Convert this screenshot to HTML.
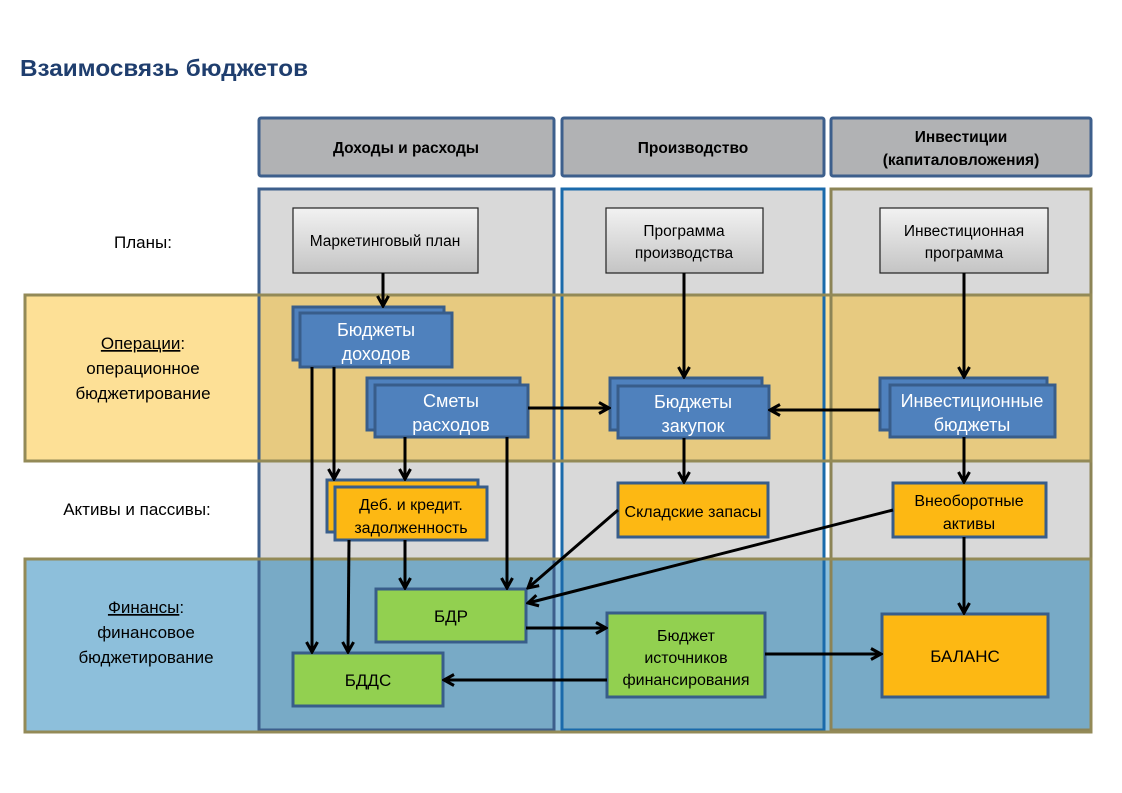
<!DOCTYPE html>
<html><head><meta charset="utf-8"><style>
html,body{margin:0;padding:0;background:#fff}
svg{display:block}
text{font-family:"Liberation Sans Narrow","Liberation Sans",sans-serif;fill:#000}
</style></head><body>
<svg width="1122" height="793" viewBox="0 0 1122 793" xmlns="http://www.w3.org/2000/svg">
<defs>
<marker id="a" viewBox="0 0 14 14" refX="12" refY="7" markerWidth="14" markerHeight="14" markerUnits="userSpaceOnUse" orient="auto">
<polyline points="2,1.5 12,7 2,12.5" fill="none" stroke="#000" stroke-width="3"/>
</marker>
<linearGradient id="g" x1="0" y1="0" x2="0" y2="1"><stop offset="0" stop-color="#f2f2f2"/><stop offset="1" stop-color="#c4c4c4"/></linearGradient>
</defs>
<text x="20" y="76" font-size="23" font-weight="bold" style="fill:#1f3e6e" font-family="Liberation Sans" textLength="288" lengthAdjust="spacingAndGlyphs">Взаимосвязь бюджетов</text>

<g stroke="#3d5f8c" stroke-width="3" fill="#b1b2b4">
<rect x="259" y="118" width="295" height="58" rx="2"/>
<rect x="562" y="118" width="262" height="58" rx="2"/>
<rect x="831" y="118" width="260" height="58" rx="2"/>
</g>
<g font-size="15.5" font-weight="bold" text-anchor="middle">
<text x="406" y="153">Доходы и расходы</text>
<text x="693" y="153">Производство</text>
<text x="961" y="142">Инвестиции</text>
<text x="961" y="165">(капиталовложения)</text>
</g>

<g fill="#d9d9d9">
<rect x="259" y="189" width="295" height="541"/>
<rect x="562" y="189" width="262" height="541"/>
<rect x="831" y="189" width="260" height="541"/>
</g>
<rect x="25" y="295" width="1066" height="166" fill="#fab505" fill-opacity="0.42"/>
<rect x="25" y="559" width="1066" height="173" fill="#0271af" fill-opacity="0.45"/>
<g fill="none" stroke-width="3">
<rect x="259" y="189" width="295" height="541" stroke="#3d5f8c"/>
<rect x="562" y="189" width="262" height="541" stroke="#1a6aab"/>
<rect x="831" y="189" width="260" height="541" stroke="#8c8456"/>
</g>
<g fill="none" stroke="#938a57" stroke-width="3">
<rect x="25" y="295" width="1066" height="166"/>
<rect x="25" y="559" width="1066" height="173"/>
</g>

<g font-size="17" text-anchor="middle">
<text x="143" y="248">Планы:</text>
<text x="143" y="349"><tspan text-decoration="underline">Операции</tspan>:</text>
<text x="143" y="374">операционное</text>
<text x="143" y="399">бюджетирование</text>
<text x="137" y="515">Активы и пассивы:</text>
<text x="146" y="613"><tspan text-decoration="underline">Финансы</tspan>:</text>
<text x="146" y="638">финансовое</text>
<text x="146" y="663">бюджетирование</text>
</g>

<g fill="url(#g)" stroke="#222" stroke-width="1.2">
<rect x="293" y="208" width="185" height="65"/>
<rect x="606" y="208" width="157" height="65"/>
<rect x="880" y="208" width="168" height="65"/>
</g>
<g font-size="15.5" text-anchor="middle">
<text x="385" y="246">Маркетинговый план</text>
<text x="684" y="236">Программа</text>
<text x="684" y="258">производства</text>
<text x="964" y="236">Инвестиционная</text>
<text x="964" y="258">программа</text>
</g>

<g fill="#4f81bd" stroke="#385d8a" stroke-width="3">
<rect x="293" y="307" width="151" height="53"/>
<rect x="300" y="313" width="152" height="54"/>
<rect x="367" y="378" width="153" height="52"/>
<rect x="375" y="385" width="153" height="52"/>
<rect x="610" y="378" width="152" height="52"/>
<rect x="618" y="386" width="151" height="52"/>
<rect x="880" y="378" width="167" height="52"/>
<rect x="890" y="385" width="165" height="52"/>
</g>
<g font-size="18" text-anchor="middle">
<text x="376" y="336" style="fill:#fff">Бюджеты</text>
<text x="376" y="360" style="fill:#fff">доходов</text>
<text x="451" y="407" style="fill:#fff">Сметы</text>
<text x="451" y="431" style="fill:#fff">расходов</text>
<text x="693" y="408" style="fill:#fff">Бюджеты</text>
<text x="693" y="432" style="fill:#fff">закупок</text>
<text x="972" y="407" style="fill:#fff">Инвестиционные</text>
<text x="972" y="431" style="fill:#fff">бюджеты</text>
</g>

<g fill="#fdb813" stroke="#385d8a" stroke-width="3">
<rect x="327" y="480" width="151" height="52"/>
<rect x="335" y="487" width="152" height="53"/>
<rect x="618" y="483" width="150" height="54"/>
<rect x="893" y="483" width="153" height="54"/>
<rect x="882" y="614" width="166" height="83"/>
</g>
<g fill="#92d050" stroke="#385d8a" stroke-width="3">
<rect x="376" y="589" width="150" height="53"/>
<rect x="293" y="653" width="150" height="53"/>
<rect x="607" y="613" width="158" height="84"/>
</g>
<g font-size="16" text-anchor="middle">
<text x="411" y="510">Деб. и кредит.</text>
<text x="411" y="533">задолженность</text>
<text x="693" y="517">Складские запасы</text>
<text x="969" y="506">Внеоборотные</text>
<text x="969" y="529">активы</text>
<text x="965" y="662" font-size="17">БАЛАНС</text>
<text x="451" y="622" font-size="17">БДР</text>
<text x="368" y="686" font-size="17">БДДС</text>
<text x="686" y="641">Бюджет</text>
<text x="686" y="663">источников</text>
<text x="686" y="685">финансирования</text>
</g>

<g stroke="#000" stroke-width="3" fill="none" marker-end="url(#a)">
<line x1="383" y1="273" x2="383" y2="306"/>
<line x1="684" y1="273" x2="684" y2="377"/>
<line x1="964" y1="273" x2="964" y2="377"/>
<line x1="528" y1="408" x2="609" y2="408"/>
<line x1="880" y1="410" x2="770" y2="410"/>
<line x1="684" y1="438" x2="684" y2="482"/>
<line x1="964" y1="437" x2="964" y2="482"/>
<line x1="312" y1="367" x2="312" y2="652"/>
<line x1="334" y1="367" x2="334" y2="479"/>
<line x1="405" y1="437" x2="405" y2="479"/>
<line x1="507" y1="437" x2="507" y2="588"/>
<line x1="349" y1="540" x2="348" y2="652"/>
<line x1="405" y1="540" x2="405" y2="588"/>
<line x1="618" y1="510" x2="528" y2="588"/>
<line x1="893" y1="510" x2="528" y2="603"/>
<line x1="526" y1="628" x2="606" y2="628"/>
<line x1="607" y1="680" x2="444" y2="680"/>
<line x1="765" y1="654" x2="881" y2="654"/>
<line x1="964" y1="537" x2="964" y2="613"/>
</g>
</svg>
</body></html>
